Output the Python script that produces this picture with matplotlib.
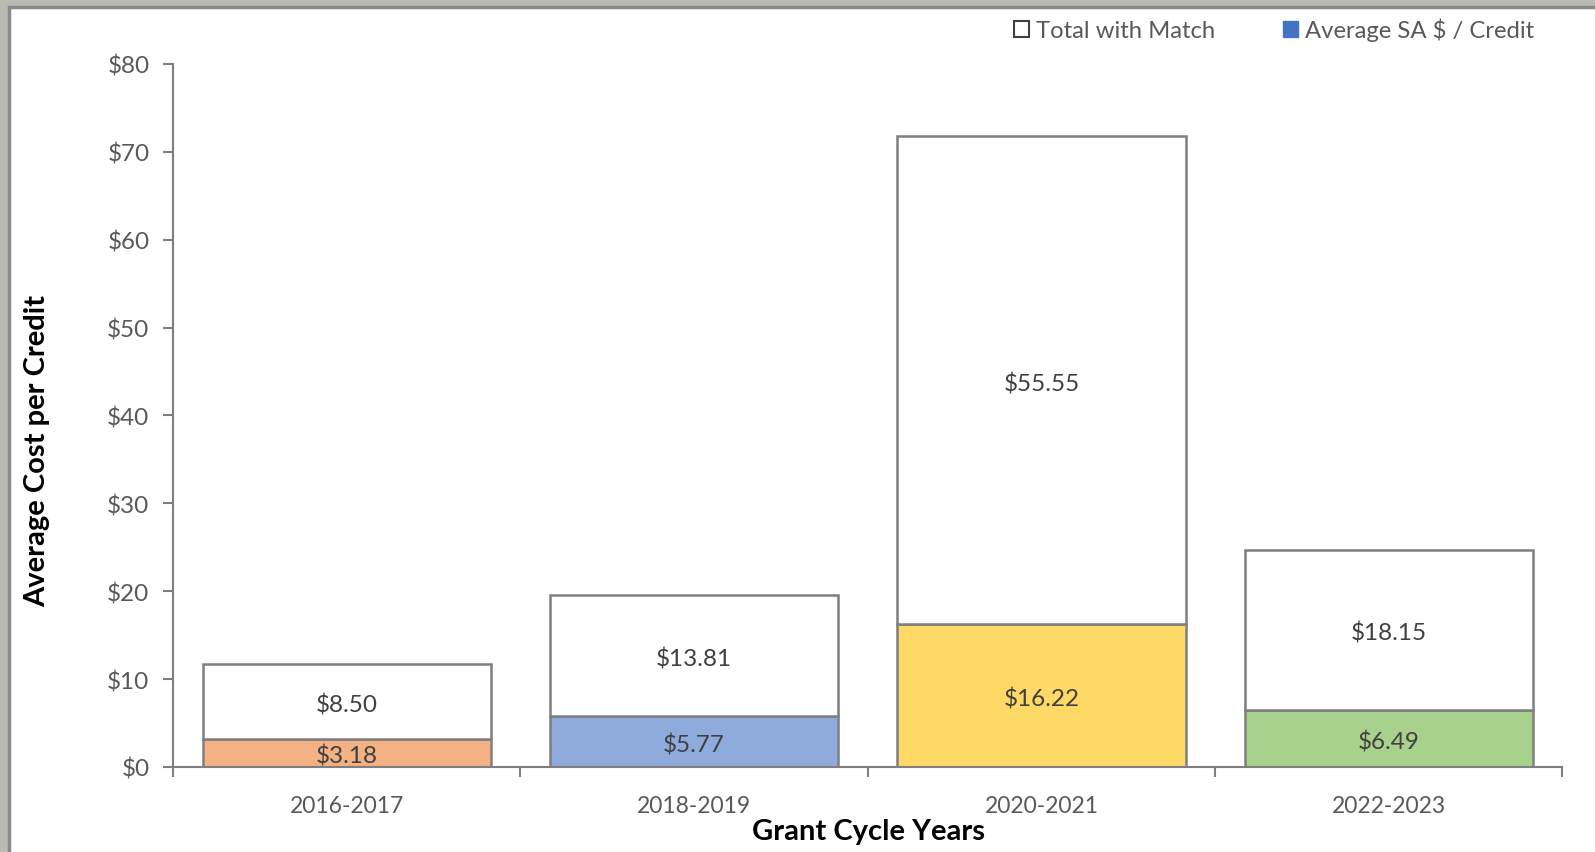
import matplotlib.pyplot as plt
from matplotlib.patches import Rectangle
import numpy as np

plt.rcParams['font.family'] = ['Lato', 'DejaVu Sans']

# Grant cycle data
cycles = ['2016-2017', '2018-2019', '2020-2021', '2022-2023']
sa_per_credit = [3.18, 5.77, 16.22, 6.49]
match_extra = [8.50, 13.81, 55.55, 18.15]
seg_colors = ['#F4B183', '#8FAADC', '#FFD966', '#A9D18E']

edge = '#7F7F7F'
txt = '#595959'

fig = plt.figure(figsize=(15.95, 8.53), dpi=100, facecolor='#B9BCB2')
# white chart panel with grey frame
fig.patches.append(Rectangle((9 / 1595, -0.01), 1.02, (853 - 8) / 853 + 0.01,
                             transform=fig.transFigure, facecolor='white',
                             edgecolor='#8A8A8A', linewidth=2.5, zorder=-5))

ax = fig.add_axes([0.1085, 0.0997, 0.9796 - 0.1085, 0.9238 - 0.0997])
ax.set_facecolor('none')

x = np.arange(len(cycles))
w = 0.83
ax.bar(x, sa_per_credit, width=w, color=seg_colors, edgecolor=edge, linewidth=1.8, zorder=2)
ax.bar(x, match_extra, width=w, bottom=sa_per_credit, color='white', edgecolor=edge,
       linewidth=1.8, zorder=2)

for i in range(len(cycles)):
    ax.annotate(f'${sa_per_credit[i]:.2f}', (x[i], sa_per_credit[i] / 2),
                xytext=(0, -2), textcoords='offset points', ha='center', va='center',
                fontsize=17.5, color='#404040', zorder=3)
    ax.annotate(f'${match_extra[i]:.2f}', (x[i], sa_per_credit[i] + match_extra[i] / 2),
                xytext=(0, -2), textcoords='offset points', ha='center', va='center',
                fontsize=17.5, color='#404040', zorder=3)

ax.set_xlim(-0.5, len(cycles) - 0.5)
ax.set_ylim(0, 80)
ax.set_yticks(np.arange(0, 81, 10))
ax.set_yticklabels([f'${v}' for v in range(0, 81, 10)])
ax.set_xticks(x)
ax.set_xticklabels(cycles)
ax.set_xticks(np.arange(-0.5, len(cycles), 1), minor=True)
ax.tick_params(axis='x', which='major', length=0, pad=20, labelsize=16.5, labelcolor=txt)
ax.tick_params(axis='x', which='minor', length=7, width=1.5, color=edge, direction='out')
ax.tick_params(axis='y', length=7, width=1.5, color=edge, pad=10, labelsize=17.5, labelcolor=txt)

for s in ['top', 'right']:
    ax.spines[s].set_visible(False)
for s in ['left', 'bottom']:
    ax.spines[s].set_color(edge)
    ax.spines[s].set_linewidth(1.5)

# axis titles
fig.text(0.0236, 0.4717, 'Average Cost per Credit', rotation=90, ha='center', va='center',
         fontsize=21, fontweight='bold', color='black')
fig.text(0.5447, 0.0246, 'Grant Cycle Years', ha='center', va='center',
         fontsize=21, fontweight='bold', color='black')

# legend entries along the top
handles = [Rectangle((0, 0), 1, 1, facecolor='white', edgecolor='#404040', linewidth=1.5),
           Rectangle((0, 0), 1, 1, facecolor='#4472C4', edgecolor='#4472C4')]
fig.legend(handles, ['Total with Match', 'Average SA $ / Credit'], loc='center right',
           bbox_to_anchor=(0.9755, 0.964), ncol=2, frameon=False, fontsize=17.2,
           labelcolor=txt, handlelength=0.65, handleheight=0.65, handletextpad=0.3,
           columnspacing=2.8)

fig.savefig('out.png', dpi=100, facecolor=fig.get_facecolor())
